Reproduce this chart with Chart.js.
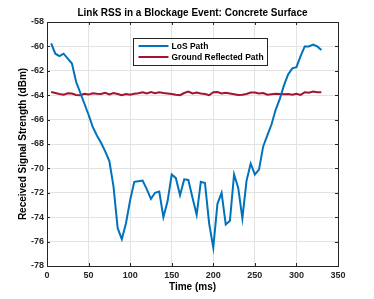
<!DOCTYPE html>
<html>
<head>
<meta charset="utf-8">
<script src="https://cdn.jsdelivr.net/npm/chart.js@4/dist/chart.umd.min.js"></script>
<style>
  body { margin: 0; background: #fff; }
  #wrap { width: 374px; height: 299px; }
</style>
</head>
<body>
<div id="wrap"><canvas id="rssChart" width="374" height="299"></canvas></div>
<script>
// time axis (ms)
var timeMs = [5,10,15,20,25,30,35,40,45,50,55,60,65,70,75,80,85,90,95,100,
	105,110,115,120,125,130,135,140,145,150,155,160,165,170,175,180,185,190,195,200,
	205,210,215,220,225,230,235,240,245,250,255,260,265,270,275,280,285,290,295,300,
	305,310,315,320,325,330];

// LoS path (dBm)
var losRss = [-59.75,-60.6,-60.8,-60.6,-61.0,-61.4,-62.9,-63.8,-64.7,-65.6,
	-66.6,-67.3,-67.9,-68.6,-69.4,-71.5,-74.9,-75.8,-74.5,-72.6,
	-71.1,-71.05,-71.0,-71.7,-72.5,-72.0,-71.9,-74.0,-72.7,-70.5,
	-70.8,-72.2,-70.9,-70.95,-72.4,-73.8,-71.1,-71.2,-74.5,-76.5,
	-72.9,-72.0,-74.6,-74.3,-70.5,-71.6,-74.1,-71.0,-69.6,-70.5,
	-70.1,-68.2,-67.3,-66.4,-65.2,-64.3,-63.2,-62.3,-61.8,-61.7,
	-60.8,-60.0,-60.0,-59.85,-60.0,-60.3];

// ground reflected path (dBm)
var groundRss = [-63.74,-63.82,-63.9,-63.96,-63.85,-63.86,-63.98,-64.0,-63.88,-63.95,
	-63.84,-63.88,-63.9,-63.8,-63.93,-63.82,-63.9,-64.0,-63.9,-63.96,
	-63.88,-63.84,-63.76,-63.86,-63.74,-63.84,-63.76,-63.82,-63.86,-63.9,
	-63.96,-64.0,-63.82,-63.7,-63.86,-63.78,-63.86,-63.9,-64.0,-63.76,
	-63.74,-63.86,-63.8,-63.86,-63.92,-63.98,-63.96,-63.9,-63.78,-63.78,
	-63.86,-63.82,-63.96,-63.92,-63.88,-63.9,-63.93,-63.9,-63.96,-63.88,
	-63.98,-63.76,-63.8,-63.7,-63.76,-63.76];

var seriesNames = ['LoS Path', 'Ground Reflected Path'];
var seriesColors = ['#0072BD', '#A2142F'];
var chartTitle = 'Link RSS in a Blockage Event: Concrete Surface';
var fontFam = '"Liberation Sans", Arial, Helvetica, sans-serif';

function toPoints(xs, ys){
	return xs.map(function(x, i){ return {x: x, y: ys[i]}; });
}

// box, inward ticks, title and legend (matlab look)
var matlabFrame = {
	id: 'matlabFrame',
	afterDraw: function(chart){
		var ctx = chart.ctx;
		var a = chart.chartArea;
		var xs = chart.scales.x, ys = chart.scales.y;
		ctx.save();
		ctx.strokeStyle = '#262626';
		ctx.lineWidth = 1;
		ctx.strokeRect(Math.round(a.left) + 0.5, Math.round(a.top) + 0.5,
			Math.round(a.right - a.left), Math.round(a.bottom - a.top));
		ctx.beginPath();
		xs.ticks.forEach(function(t){
			var px = Math.round(xs.getPixelForValue(t.value)) + 0.5;
			ctx.moveTo(px, a.bottom); ctx.lineTo(px, a.bottom - 3);
			ctx.moveTo(px, a.top); ctx.lineTo(px, a.top + 3);
		});
		ys.ticks.forEach(function(t){
			var py = Math.round(ys.getPixelForValue(t.value)) + 0.5;
			ctx.moveTo(a.left, py); ctx.lineTo(a.left + 3, py);
			ctx.moveTo(a.right, py); ctx.lineTo(a.right - 3, py);
		});
		ctx.stroke();

		// title
		ctx.fillStyle = '#000';
		ctx.font = 'bold 10px ' + fontFam;
		ctx.textAlign = 'center';
		ctx.textBaseline = 'middle';
		ctx.fillText(chartTitle, (a.left + a.right) / 2, 13.5);

		// legend
		var lx = 133.5, ly = 38.5, lw = 134, lh = 27;
		ctx.fillStyle = '#fff';
		ctx.fillRect(lx, ly, lw, lh);
		ctx.strokeStyle = '#262626';
		ctx.strokeRect(lx, ly, lw, lh);
		ctx.font = 'bold 8.5px ' + fontFam;
		ctx.textAlign = 'left';
		chart.data.datasets.forEach(function(ds, i){
			var yy = ly + 7.5 + i * 11;
			ctx.strokeStyle = ds.borderColor;
			ctx.lineWidth = 2;
			ctx.beginPath();
			ctx.moveTo(lx + 5, yy); ctx.lineTo(lx + 35, yy);
			ctx.stroke();
			ctx.fillStyle = '#000';
			ctx.fillText(ds.label, lx + 38, yy + 0.5);
		});
		ctx.restore();
	}
};

var ctx = document.getElementById('rssChart').getContext('2d');
var rssChart = new Chart(ctx, {
	type: 'line',
	data: {
		datasets: [{
			label: seriesNames[0],
			data: toPoints(timeMs, losRss),
			borderColor: seriesColors[0],
			backgroundColor: seriesColors[0],
			borderWidth: 2,
			pointRadius: 0,
			tension: 0
		}, {
			label: seriesNames[1],
			data: toPoints(timeMs, groundRss),
			borderColor: seriesColors[1],
			backgroundColor: seriesColors[1],
			borderWidth: 2,
			pointRadius: 0,
			tension: 0
		}]
	},
	options: {
		responsive: false,
		animation: false,
		layout: { padding: { top: 22, right: 36, left: 0, bottom: 0 } },
		plugins: {
			legend: { display: false },
			title: { display: false },
			tooltip: { enabled: false }
		},
		scales: {
			x: {
				type: 'linear',
				min: 0, max: 350,
				ticks: {
					stepSize: 50,
					color: '#262626',
					padding: 4,
					maxRotation: 0,
					font: { family: fontFam, size: 9, weight: 'bold' }
				},
				grid: { color: '#e3e3e3', drawTicks: false },
				border: { display: false },
				title: {
					display: true,
					text: 'Time (ms)',
					color: '#000',
					padding: { top: 0, bottom: 6 },
					font: { family: fontFam, size: 10, weight: 'bold' }
				},
				afterFit: function(scale){ scale.height = 33; }
			},
			y: {
				min: -78, max: -58,
				ticks: {
					stepSize: 2,
					color: '#262626',
					padding: 3,
					font: { family: fontFam, size: 9, weight: 'bold' },
					callback: function(v){ return String(v); }
				},
				grid: { color: '#e3e3e3', drawTicks: false },
				border: { display: false },
				title: {
					display: true,
					text: 'Received Signal Strength (dBm)',
					color: '#000',
					padding: { top: 17, bottom: 0 },
					font: { family: fontFam, size: 10, weight: 'bold' }
				},
				afterFit: function(scale){ scale.width = 47; }
			}
		}
	},
	plugins: [matlabFrame]
});
</script>
</body>
</html>
